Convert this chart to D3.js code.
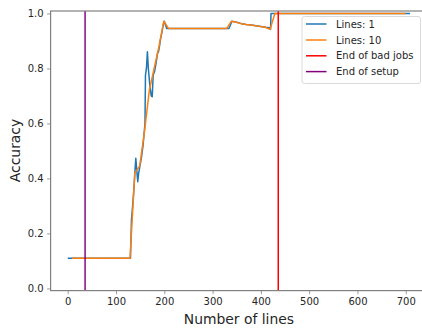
<!DOCTYPE html>
<html><head><meta charset="utf-8">
<script src="https://cdn.jsdelivr.net/npm/d3@7"></script>
<style>body{margin:0;background:#fff}svg{display:block;font-family:"DejaVu Sans",sans-serif}</style>
</head><body><svg id="c" width="422" height="332"></svg>
<script>
const blueX=[0,130,132,134,137,139,141,143,145,147,150,153,156,158,160,161,163,165,167,170,173,175,177,180,183,186,188,190,192,195,198,200,203,205,334,340,350,360,370,380,390,400,410,418,420,421,709];
const blueY=[0.11,0.11,0.25,0.29,0.36,0.42,0.473,0.43,0.388,0.42,0.449,0.48,0.52,0.56,0.6,0.776,0.80,0.861,0.80,0.74,0.70,0.697,0.776,0.79,0.82,0.855,0.861,0.88,0.905,0.93,0.96,0.972,0.955,0.945,0.945,0.972,0.968,0.963,0.96,0.958,0.955,0.953,0.95,0.948,0.942,1.0,1.0];
const orangeX=[9,129,139,149,159,169,179,189,199,209,329,339,349,359,369,379,389,399,409,419,429,699];
const orangeY=[0.11,0.11,0.42,0.445,0.57,0.72,0.80,0.88,0.972,0.945,0.945,0.972,0.968,0.963,0.96,0.958,0.955,0.953,0.95,0.942,1.0,1.0];
const endBadJobs=436;
const endSetup=36;
const xTicks=[0,100,200,300,400,500,600,700];
const yTicks=[0,0.2,0.4,0.6,0.8,1.0];
const seriesNames=["Lines: 1","Lines: 10","End of bad jobs","End of setup"];
const seriesColors=["#1f77b4","#ff7f0e","red","purple"];

const svg=d3.select("#c");
const x=d3.scaleLinear().domain([-35.45,744.45]).range([50.6,427.2]);
const y=d3.scaleLinear().domain([-0.008,1.009]).range([290.6,11]);
const L=50.6,R=427.2,T=11,B=290.6;

svg.append("defs").append("clipPath").attr("id","clip").append("rect")
  .attr("x",L).attr("y",T).attr("width",R-L).attr("height",B-T);

const g=svg.append("g").attr("clip-path","url(#clip)");
const line=d3.line().x(d=>x(d[0])).y(d=>y(d[1]));
g.append("path").datum(blueX.map((v,i)=>[v,blueY[i]])).attr("d",line)
  .attr("fill","none").attr("stroke",seriesColors[0]).attr("stroke-width",1.5).attr("stroke-linejoin","round");
g.append("path").datum(orangeX.map((v,i)=>[v,orangeY[i]])).attr("d",line)
  .attr("fill","none").attr("stroke",seriesColors[1]).attr("stroke-width",1.5).attr("stroke-linejoin","round");
g.append("line").attr("x1",x(endBadJobs)).attr("x2",x(endBadJobs)).attr("y1",T).attr("y2",B)
  .attr("stroke",seriesColors[2]).attr("stroke-width",1.5);
g.append("line").attr("x1",x(endSetup)).attr("x2",x(endSetup)).attr("y1",T).attr("y2",B)
  .attr("stroke",seriesColors[3]).attr("stroke-width",1.8).attr("opacity",0.8);

// axes
const xa=svg.append("g").attr("transform",`translate(0,${B})`)
  .call(d3.axisBottom(x).tickValues(xTicks).tickFormat(d3.format("d")).tickSize(3.5).tickSizeOuter(0).tickPadding(3.5));
const ya=svg.append("g").attr("transform",`translate(${L},0)`)
  .call(d3.axisLeft(y).tickValues(yTicks).tickFormat(d3.format(".1f")).tickSize(3.5).tickSizeOuter(0).tickPadding(3.5));
[xa,ya].forEach(a=>{
  a.select(".domain").remove();
  a.selectAll(".tick line").attr("stroke","#808080").attr("stroke-width",0.8);
  a.selectAll(".tick text").attr("fill","#262626").style("font-size","10px").style("font-family","DejaVu Sans");
});
// spines
svg.append("rect").attr("x",L).attr("y",T).attr("width",R-L).attr("height",B-T)
  .attr("fill","none").attr("stroke","#808080").attr("stroke-width",1.2);

svg.append("text").attr("x",(L+R)/2).attr("y",323.5).attr("text-anchor","middle")
  .style("font-size","13.9px").attr("fill","#262626").text("Number of lines");
svg.append("text").attr("transform","translate(20,150.5) rotate(-90)").attr("text-anchor","middle")
  .style("font-size","13.9px").attr("fill","#262626").text("Accuracy");

// legend
const lg=svg.append("g");
lg.append("rect").attr("x",302).attr("y",16.5).attr("width",118.5).attr("height",67).attr("rx",2.5)
  .attr("fill","white").attr("fill-opacity",0.85).attr("stroke","#d6d6d6").attr("stroke-width",0.9);
const rowsY=[24,40,55.8,71.6];
seriesNames.forEach((n,i)=>{
  lg.append("line").attr("x1",306).attr("x2",326.5).attr("y1",rowsY[i]).attr("y2",rowsY[i])
    .attr("stroke",seriesColors[i]).attr("stroke-width",1.5);
  lg.append("text").attr("x",336).attr("y",rowsY[i]).attr("dy","0.35em")
    .style("font-size","10px").attr("fill","#262626").text(n);
});
</script></body></html>
